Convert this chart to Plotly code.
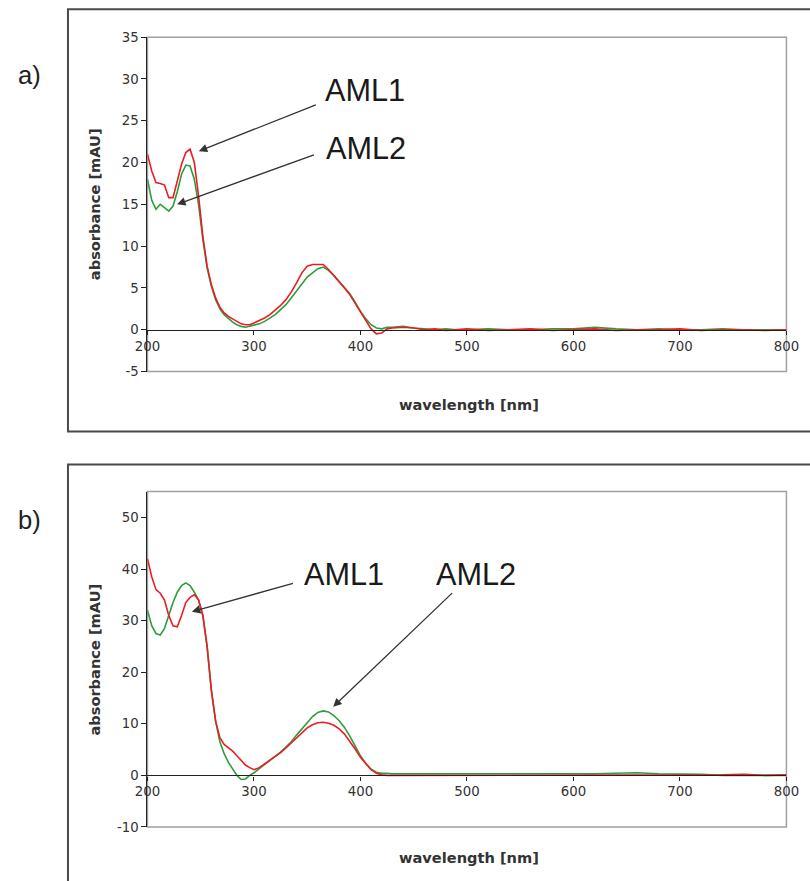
import plotly.graph_objects as go

# ---------------- data ----------------
wavelength = [200, 204, 208, 212, 216, 220, 224, 228, 232, 236, 240, 244, 248, 252, 256, 260,
              264, 268, 272, 276, 280, 284, 288, 292, 296, 300,
              305, 310, 315, 320, 325, 330, 335, 340, 345, 350, 355, 360, 365, 370, 375, 380,
              385, 390, 395, 400, 405, 410, 415, 420, 425, 430,
              440, 450, 460, 470, 480, 490, 500,
              520, 540, 560, 580, 600, 620, 640, 660, 680, 700, 720, 740, 760, 780, 800]

a_aml1 = [21.0, 19.0, 17.6, 17.5, 17.3, 15.8, 15.8, 17.8, 19.8, 21.2, 21.6, 20.0, 16.0, 11.2, 7.6, 5.4,
          3.8, 2.7, 2.0, 1.6, 1.3, 1.0, 0.7, 0.6, 0.6, 0.8,
          1.1, 1.4, 1.8, 2.3, 2.9, 3.6, 4.5, 5.6, 6.8, 7.6, 7.8, 7.8, 7.8, 7.2, 6.5, 5.8,
          5.0, 4.2, 3.2, 2.1, 1.1, 0.1, -0.5, -0.4, 0.1, 0.2,
          0.3, 0.2, 0.0, 0.1, -0.1, 0.0, 0.1,
          -0.1, 0.0, 0.1, -0.1, 0.0, 0.1, -0.1, 0.0, 0.0, 0.1, -0.1, 0.0, 0.0, -0.1, 0.0]

a_aml2 = [18.0, 15.5, 14.4, 15.0, 14.6, 14.2, 14.8, 16.5, 18.6, 19.7, 19.6, 18.0, 15.0, 10.8, 7.4, 5.2,
          3.6, 2.5, 1.8, 1.3, 0.9, 0.6, 0.4, 0.3, 0.4, 0.5,
          0.7, 1.0, 1.4, 1.8, 2.4, 3.0, 3.8, 4.6, 5.5, 6.3, 6.8, 7.3, 7.5, 7.1, 6.5, 5.8,
          5.1, 4.3, 3.3, 2.2, 1.3, 0.6, 0.2, 0.1, 0.3, 0.3,
          0.4, 0.2, 0.1, 0.0, 0.1, 0.0, 0.0,
          0.1, 0.0, 0.0, 0.1, 0.1, 0.3, 0.1, 0.0, 0.1, 0.0, 0.0, 0.1, 0.0, 0.0, 0.0]

b_aml1 = [42.0, 38.5, 36.0, 35.3, 34.0, 31.0, 29.0, 28.8, 31.0, 33.5, 34.5, 35.0, 34.0, 31.0, 25.0, 16.5,
          10.5, 7.3, 6.0, 5.3, 4.7, 3.8, 2.8, 2.0, 1.5, 1.1,
          1.5, 2.2, 2.9, 3.6, 4.4, 5.3, 6.3, 7.3, 8.3, 9.2, 9.8, 10.2, 10.3, 10.1, 9.7, 9.0,
          8.0, 6.6, 5.1, 3.5, 2.2, 1.1, 0.4, 0.1, 0.0, 0.0,
          0.0, 0.1, 0.0, 0.0, 0.1, 0.0, 0.0,
          0.1, 0.0, 0.0, 0.0, 0.1, 0.0, 0.0, 0.1, 0.0, 0.0, 0.0, 0.1, 0.2, 0.0, 0.1]

b_aml2 = [32.0, 29.0, 27.5, 27.2, 28.5, 31.0, 33.5, 35.5, 36.8, 37.3, 36.8, 35.5, 34.0, 31.0, 25.0, 16.5,
          10.5, 6.5, 4.2, 2.5, 1.3, 0.0, -0.8, -0.7, 0.0, 0.5,
          1.3, 2.1, 2.9, 3.7, 4.5, 5.5, 6.5, 7.8, 9.0, 10.3, 11.4, 12.2, 12.5, 12.3, 11.6, 10.6,
          9.3, 7.6, 5.6, 3.8, 2.3, 1.2, 0.6, 0.4, 0.4, 0.3,
          0.3, 0.3, 0.2, 0.3, 0.2, 0.3, 0.3,
          0.2, 0.3, 0.2, 0.3, 0.3, 0.3, 0.4, 0.5, 0.3, 0.3, 0.2, 0.0, 0.0, 0.0, 0.0]

x_ticks = [200, 300, 400, 500, 600, 700, 800]
ya_ticks = [-5, 0, 5, 10, 15, 20, 25, 30, 35]
ya_ticktext = ["-5", "0", "5", "10", "15", "20", "25", "30", "35"]
yb_ticks = [-10, 0, 10, 20, 30, 40, 50]
yb_ticktext = ["-10", "0", "10", "20", "30", "40", "50"]
labels = ["AML1", "AML2"]

# ---------------- layout geometry ----------------
W, H = 810, 881
# the photographed page places the figure inside an 8px body margin and rescales slightly;
# map target picture pixels to figure pixels accordingly
OFF, SX, BX, SY = 8, 0.974, 1.9, 0.982
def px(x):
    return ((x - BX) / SX - OFF) / W
def py(y):
    return 1 - (y / SY - OFF) / H
FS = 1 / 0.978  # font compensation

x_dom = [px(145), px(788)]
ya_dom = [py(372), py(38)]
yb_dom = [py(827), py(492)]
ya_rng = [-5, 35]
yb_rng = [-10, 55]
pos_a = ya_dom[0] + (0 - ya_rng[0]) / (ya_rng[1] - ya_rng[0]) * (ya_dom[1] - ya_dom[0])
pos_b = yb_dom[0] + (0 - yb_rng[0]) / (yb_rng[1] - yb_rng[0]) * (yb_dom[1] - yb_dom[0])

RED = "#ea1c24"
GREEN = "#2f9c3c"
TICKFONT = dict(family="DejaVu Sans", size=round(13 * FS, 1), color="#333333")
TITLEFONT = dict(family="DejaVu Sans", size=round(14.3 * FS, 1), color="#333333")
LBLFONT = dict(family="Liberation Sans, Arial", size=round(30 * FS, 1), color="#1a1a1a")
PANELFONT = dict(family="Liberation Sans, Arial", size=round(25 * FS, 1), color="#222")

fig = go.Figure()
fig.add_trace(go.Scatter(x=wavelength, y=a_aml2, mode="lines", line=dict(color=GREEN, width=1.6),
                         xaxis="x", yaxis="y", name=labels[1]))
fig.add_trace(go.Scatter(x=wavelength, y=a_aml1, mode="lines", line=dict(color=RED, width=1.6),
                         xaxis="x", yaxis="y", name=labels[0]))
fig.add_trace(go.Scatter(x=wavelength, y=b_aml2, mode="lines", line=dict(color=GREEN, width=1.6),
                         xaxis="x2", yaxis="y2", name=labels[1]))
fig.add_trace(go.Scatter(x=wavelength, y=b_aml1, mode="lines", line=dict(color=RED, width=1.6),
                         xaxis="x2", yaxis="y2", name=labels[0]))

xcommon = dict(domain=x_dom, range=[200, 800], tickvals=x_ticks, showline=True, linecolor="#222222",
               linewidth=1.3, ticks="outside", ticklen=4, tickcolor="#222222", showgrid=False,
               zeroline=False, tickfont=TICKFONT, anchor="free", ticklabeloverflow="allow")
ycommon = dict(showline=True, linecolor="#222222", linewidth=1.3, ticks="outside", ticklen=5,
               tickcolor="#222222", showgrid=False, zeroline=False, tickfont=TICKFONT)

fig.update_layout(
    width=W, height=H, margin=dict(l=0, r=0, t=0, b=0),
    paper_bgcolor="white", plot_bgcolor="white", showlegend=False,
    xaxis=dict(**xcommon, position=pos_a),
    yaxis=dict(**ycommon, domain=ya_dom, range=ya_rng, tickvals=ya_ticks, ticktext=ya_ticktext, anchor="x"),
    xaxis2=dict(**xcommon, position=pos_b),
    yaxis2=dict(**ycommon, domain=yb_dom, range=yb_rng, tickvals=yb_ticks, ticktext=yb_ticktext, anchor="x2"),
)

shapes = []
# outer frames (right / bottom edges run off the picture)
shapes.append(dict(type="rect", xref="paper", yref="paper", x0=px(65), x1=px(840), y0=py(432), y1=py(10),
                   line=dict(color="#4a4a4a", width=2)))
shapes.append(dict(type="rect", xref="paper", yref="paper", x0=px(65), x1=px(840), y0=py(930), y1=py(465),
                   line=dict(color="#4a4a4a", width=2)))
# plot-area borders
for yd in (ya_dom, yb_dom):
    shapes.append(dict(type="rect", xref="paper", yref="paper", x0=x_dom[0], x1=x_dom[1], y0=yd[0], y1=yd[1],
                       line=dict(color="#a0a0a0", width=1.5), layer="below"))
fig.update_layout(shapes=shapes)

C = dict(xanchor="center", yanchor="middle")
ann = []
# panel labels
ann.append(dict(text="a)", x=px(26), y=py(76), xref="paper", yref="paper", showarrow=False,
                font=PANELFONT, **C))
ann.append(dict(text="b)", x=px(26), y=py(520), xref="paper", yref="paper", showarrow=False,
                font=PANELFONT, **C))
# axis titles
for yc, xc in ((205, 405), (660, 858)):
    ann.append(dict(text="<b>absorbance [mAU]</b>", x=px(92), y=py(yc), xref="paper", yref="paper",
                    showarrow=False, textangle=-90, font=TITLEFONT, **C))
    ann.append(dict(text="<b>wavelength [nm]</b>", x=px(469), y=py(xc), xref="paper", yref="paper",
                    showarrow=False, font=TITLEFONT, **C))
# labels with arrows, panel a
ann.append(dict(text=labels[0], x=404, y=28.6, xref="x", yref="y", showarrow=False, font=LBLFONT, **C))
ann.append(dict(text=labels[1], x=405, y=21.65, xref="x", yref="y", showarrow=False, font=LBLFONT, **C))
for (hx, hy, tx, ty) in ((248.2, 21.35, 359.5, 26.98), (227.8, 15.0, 357.7, 20.99)):
    ann.append(dict(text="", x=hx, y=hy, ax=tx, ay=ty, xref="x", yref="y", axref="x", ayref="y",
                    showarrow=True, arrowhead=2, arrowsize=1.3, arrowwidth=1.3, arrowcolor="#333", standoff=0))
# panel b
ann.append(dict(text=labels[0], x=384.6, y=38.9, xref="x2", yref="y2", showarrow=False, font=LBLFONT, **C))
ann.append(dict(text=labels[1], x=508.5, y=38.9, xref="x2", yref="y2", showarrow=False, font=LBLFONT, **C))
for (hx, hy, tx, ty) in ((241.7, 31.72, 338.0, 37.3), (374.4, 13.29, 487.5, 35.6)):
    ann.append(dict(text="", x=hx, y=hy, ax=tx, ay=ty, xref="x2", yref="y2", axref="x2", ayref="y2",
                    showarrow=True, arrowhead=2, arrowsize=1.3, arrowwidth=1.3, arrowcolor="#333", standoff=0))
fig.update_layout(annotations=ann)

fig.write_html("out.html")
